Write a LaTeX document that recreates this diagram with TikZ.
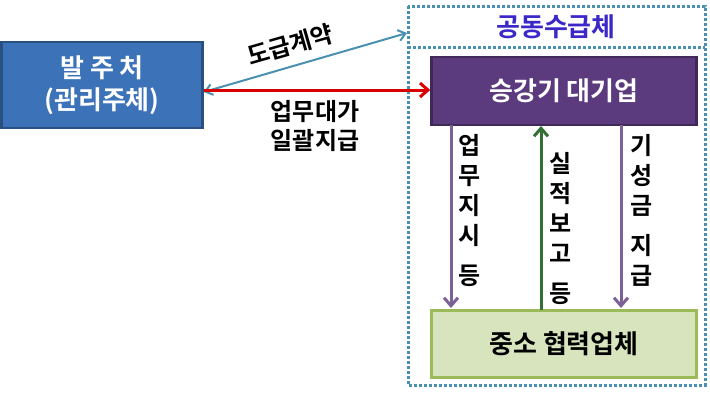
\documentclass[tikz,border=0pt]{standalone}
\usepackage{fontspec}
\setmainfont{Noto Sans CJK KR}[BoldFont={* Bold}]
\usetikzlibrary{arrows.meta}
\definecolor{bluebox}{HTML}{3C72B8}
\definecolor{purp}{HTML}{5B3A7E}
\definecolor{grn}{HTML}{D8E4BE}
\definecolor{grnb}{HTML}{9BBB59}
\definecolor{dotc}{HTML}{4A90B0}
\tikzset{
 box/.style={draw, line width=2.5pt, minimum width=#1, inner sep=0pt, font=\bfseries\fontsize{26}{32}\selectfont},
 vlab/.style={font=\bfseries\fontsize{24}{30}\selectfont, align=center, anchor=north, inner sep=0pt},
 lab/.style={font=\bfseries\fontsize{24}{29}\selectfont, align=center},
 arr/.style={line width=3pt, -{Straight Barb[length=8pt,width=14pt]}}
}
\begin{document}
\begin{tikzpicture}[x=1pt,y=-1pt]
\useasboundingbox (0,0) rectangle (710,400);
\draw[dotc, line width=3pt, dotted] (408,6) rectangle (705,385);
\draw[dotc, line width=3pt, dotted] (408,47) -- (705,47);
\node[font=\bfseries\fontsize{26}{30}\selectfont, text={rgb,255:red,60;green,40;blue,200}] (hdr) at (556,27) {공동수급체};
\node[box, draw=bluebox!70!black, fill=bluebox, text=white, minimum width=201pt, minimum height=86pt, align=center] (own) at (102,85) {발 주 처\\(관리주체)};
\node[box, draw=purp!70!black, fill=purp, text=white, minimum width=265pt, minimum height=68pt] (big) at (564,91) {승강기 대기업};
\node[box, draw=grnb, fill=grn, text=black, minimum width=265pt, minimum height=67pt] (sme) at (564,344) {중소 협력업체};
\coordinate (grp) at (407,33);
\draw[{Straight Barb[length=7pt,width=11pt]}-{Straight Barb[length=7pt,width=11pt]}, line width=2pt, color=dotc] (own.east|-0,92) -- (grp);
\node[lab, rotate=16, inner sep=1pt] (ctr) at (290,45) {도급계약};
\draw[arr, red!85!black] (own.east|-0,90) -- (big.west|-0,90);
\node[lab] (pay) at (315,126) {업무대가\\일괄지급};
\draw[arr, purp!80] (451,125) -- (451,308);
\draw[arr, green!30!black!80] (541,310) -- (541,126);
\draw[arr, purp!80] (621,125) -- (621,308);
\node[vlab] (l1) at (470,134) {업\\무\\지\\시\\[10pt]등};
\node[vlab] (l2) at (561,152) {실\\적\\보\\고\\[10pt]등};
\node[vlab] (l3) at (642,134) {기\\성\\금\\[10pt]지\\급};
\end{tikzpicture}
\end{document}
